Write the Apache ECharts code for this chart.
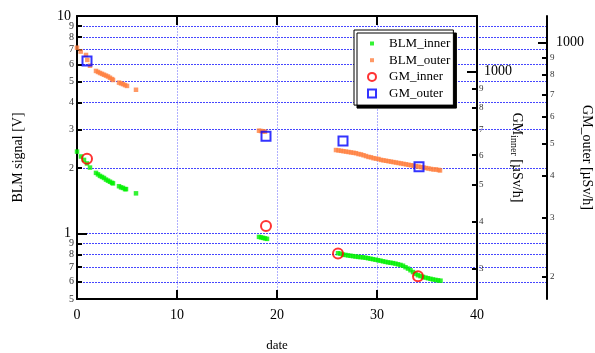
<!DOCTYPE html>
<html>
<head>
<meta charset="utf-8">
<script src="https://cdn.jsdelivr.net/npm/echarts@6/dist/echarts.min.js"></script>
<style>
  html, body { margin: 0; background: #fff; }
  #chart { width: 595px; height: 353px; }
</style>
</head>
<body>
<div id="chart"></div>
<script>
// [date, BLM signal V]
const blmOuter = [
  [0.0, 7.15], [0.37, 6.86], [0.9, 6.62], [1.03, 6.28], [1.3, 5.91],
  [1.9, 5.59], [2.1, 5.53], [2.3, 5.47], [2.5, 5.42], [2.7, 5.37], [2.9, 5.32],
  [3.1, 5.27], [3.3, 5.2], [3.5, 5.13], [3.6, 5.08],
  [4.2, 4.94], [4.4, 4.9], [4.6, 4.86], [4.8, 4.81], [5.0, 4.77],
  [5.9, 4.58],
  [18.2, 2.97], [18.4, 2.96], [18.6, 2.95], [18.8, 2.94],
  [25.9, 2.42], [26.15, 2.41], [26.4, 2.40], [26.65, 2.39], [26.9, 2.38],
  [27.15, 2.37], [27.4, 2.36], [27.65, 2.35], [27.9, 2.34], [28.15, 2.32],
  [28.4, 2.31], [28.65, 2.29], [28.9, 2.27], [29.15, 2.25], [29.4, 2.24],
  [29.65, 2.22], [29.9, 2.21], [30.15, 2.20], [30.4, 2.18], [30.65, 2.17],
  [30.9, 2.16], [31.15, 2.15], [31.4, 2.14], [31.65, 2.13], [31.9, 2.12],
  [32.15, 2.11], [32.4, 2.10], [32.65, 2.09], [32.9, 2.08], [33.15, 2.07],
  [33.4, 2.06], [33.65, 2.05], [33.9, 2.04], [34.15, 2.03], [34.4, 2.02],
  [34.65, 2.01], [34.9, 2.00], [35.15, 1.99], [35.4, 1.98], [35.65, 1.97],
  [35.9, 1.97], [36.15, 1.96], [36.3, 1.95]
];
const blmInner = [
  [0.0, 2.38], [0.4, 2.26], [0.7, 2.18], [1.0, 2.10], [1.3, 2.01],
  [1.9, 1.90], [2.1, 1.87], [2.3, 1.84], [2.5, 1.82], [2.7, 1.80], [2.9, 1.77],
  [3.1, 1.75], [3.3, 1.73], [3.5, 1.71], [3.6, 1.70],
  [4.2, 1.65], [4.4, 1.63], [4.6, 1.62], [4.8, 1.60], [4.9, 1.60],
  [5.9, 1.53],
  [18.2, 0.965], [18.4, 0.96], [18.6, 0.955], [18.8, 0.95], [19.0, 0.945],
  [26.1, 0.812], [26.35, 0.808], [26.6, 0.80], [26.85, 0.797], [27.1, 0.793],
  [27.35, 0.79], [27.6, 0.787], [27.85, 0.784], [28.1, 0.781], [28.35, 0.779],
  [28.6, 0.777], [28.85, 0.774], [29.1, 0.77], [29.35, 0.766], [29.6, 0.762],
  [29.85, 0.758], [30.1, 0.754], [30.35, 0.75], [30.6, 0.745], [30.85, 0.741],
  [31.1, 0.737], [31.35, 0.734], [31.6, 0.731], [31.85, 0.727], [32.1, 0.722],
  [32.35, 0.717], [32.6, 0.711], [32.85, 0.70], [33.1, 0.69], [33.35, 0.678],
  [33.6, 0.665], [33.85, 0.652], [34.1, 0.643], [34.35, 0.637], [34.6, 0.632],
  [34.85, 0.627], [35.1, 0.623], [35.35, 0.619], [35.6, 0.615], [35.85, 0.612],
  [36.1, 0.609], [36.35, 0.607]
];
// [date, µSv/h]
const gmInner = [[1.0, 587], [18.9, 390], [26.1, 330], [34.1, 287]];
const gmOuter = [[1.0, 881], [18.9, 526], [26.6, 509], [34.2, 426]];

const dateTicks = [0, 10, 20, 30, 40];
const leftMinor = [0.5, 0.6, 0.7, 0.8, 0.9, 2, 3, 4, 5, 6, 7, 8, 9];
const leftMajor = [1, 10];
const leftGrid = [0.6, 0.7, 0.8, 0.9, 1, 2, 3, 4, 5, 6, 7, 8, 9];
const innerMinor = [300, 400, 500, 600, 700, 800, 900];
const outerMinor = [200, 300, 400, 500, 600, 700, 800, 900];
const gmMajor = [1000];

const FONT = 'Liberation Serif';
const GRID_BLUE = '#4646ff';
const GRID_BLUE_V = '#b0b0ff';

function minorText(v) {
  const p = Math.pow(10, Math.floor(Math.log10(v) + 1e-9));
  return String(Math.round(v / p));
}
function majorText(v) {
  return String(Math.round(v));
}

const chart = echarts.init(document.getElementById('chart'));

function logAxis(opt) {
  return Object.assign({
    type: 'log',
    gridIndex: 0,
    nameMoveOverlap: false,
    axisLine: { show: false },
    axisTick: { show: false },
    axisLabel: { show: false },
    splitLine: { show: false }
  }, opt);
}

function ticks(values, length) {
  return { show: true, inside: true, length: length, customValues: values,
    lineStyle: { color: '#000', width: 2 } };
}

function labels(values, fmt, size, margin, color) {
  return {
    show: true, margin: margin, customValues: values,
    showMinLabel: true, showMaxLabel: true, hideOverlap: false,
    formatter: fmt, fontFamily: FONT, fontSize: size, color: color
  };
}

const sqIcon = 'path://M0,0M24,10M10,3h4v4h-4z';
const circIcon = 'path://M0,0M24,10M16,5A4,4 0 1,1 8,5A4,4 0 1,1 16,5z';
const boxIcon = 'path://M0,0M24,10M8,1h8v8h-8z';

chart.setOption({
  animation: false,
  backgroundColor: '#fff',
  textStyle: { fontFamily: FONT },
  grid: [
    { left: 77, right: 118, top: 16, bottom: 54, outerBoundsMode: 'none', containLabel: false },
    { left: 77, right: 48, top: 16, bottom: 54, outerBoundsMode: 'none', containLabel: false }
  ],
  legend: {
    left: 354, top: 30,
    orient: 'vertical',
    padding: [7, 3, 5, 5],
    itemWidth: 24, itemHeight: 10, itemGap: 3.7,
    backgroundColor: '#fff',
    borderColor: '#000', borderWidth: 1,
    shadowColor: '#000', shadowOffsetX: 3, shadowOffsetY: 3, shadowBlur: 0,
    selectedMode: false,
    textStyle: { fontFamily: FONT, fontSize: 13, color: '#000', padding: [0, 0, 0, 0] },
    data: [
      { name: 'BLM_inner', icon: sqIcon, itemStyle: { color: '#00f000', borderWidth: 0 } },
      { name: 'BLM_outer', icon: sqIcon, itemStyle: { color: '#ff8040', borderWidth: 0 } },
      { name: 'GM_inner', icon: circIcon, itemStyle: { color: 'transparent', borderColor: '#ff0000', borderWidth: 2 } },
      { name: 'GM_outer', icon: boxIcon, itemStyle: { color: 'transparent', borderColor: '#0000ff', borderWidth: 2 } }
    ]
  },
  xAxis: [
    {
      type: 'value', gridIndex: 0, position: 'bottom',
      min: 0, max: 40, interval: 10,
      name: 'date', nameLocation: 'middle', nameGap: 40, nameMoveOverlap: false,
      nameTextStyle: { fontFamily: FONT, fontSize: 13, color: '#000' },
      axisLine: { show: true, lineStyle: { color: '#000', width: 2 } },
      axisTick: { show: true, inside: true, length: 9, lineStyle: { color: '#000', width: 2 } },
      axisLabel: labels(dateTicks, null, 14, 9, '#000'),
      splitLine: { show: true, lineStyle: { color: GRID_BLUE_V, type: [2, 1], width: 1 } }
    },
    {
      type: 'value', gridIndex: 0, position: 'top',
      min: 0, max: 40, interval: 10,
      axisLine: { show: true, lineStyle: { color: '#000', width: 2 } },
      axisTick: { show: true, inside: true, length: 9, lineStyle: { color: '#000', width: 2 } },
      axisLabel: { show: false },
      splitLine: { show: false }
    },
    {
      type: 'value', gridIndex: 1, min: 0, max: 40, show: false
    }
  ],
  yAxis: [
    // 0: BLM signal, left, minor ticks and labels
    logAxis({
      position: 'left', min: 0.5, max: 10,
      name: 'BLM signal [V]', nameLocation: 'middle', nameGap: 52,
      nameTextStyle: { fontFamily: FONT, fontSize: 14, color: '#000' },
      axisLine: { show: true, lineStyle: { color: '#000', width: 2 } },
      axisTick: ticks(leftMinor, 5),
      axisLabel: labels(leftMinor, minorText, 10, 3, '#333')
    }),
    // 1: BLM major ticks and labels
    logAxis({
      position: 'left', min: 0.5, max: 10,
      axisTick: ticks(leftMajor, 10),
      axisLabel: labels(leftMajor, majorText, 14, 6, '#000')
    }),
    // 2: GM_inner, right
    logAxis({
      position: 'right', min: 250, max: 1400,
      name: '{a|GM}{s|inner}{a| [µSv/h]}', nameLocation: 'middle', nameGap: 32, nameRotate: -90,
      nameTextStyle: {
        rich: {
          a: { fontFamily: FONT, fontSize: 14, color: '#000' },
          s: { fontFamily: FONT, fontSize: 10, color: '#000', verticalAlign: 'bottom', padding: [5, 0, 0, 0] }
        }
      },
      axisLine: { show: true, lineStyle: { color: '#000', width: 2 } },
      axisTick: ticks(innerMinor, 5),
      axisLabel: labels(innerMinor, minorText, 9, 2, '#333')
    }),
    // 3: GM_inner major tick
    logAxis({
      position: 'right', min: 250, max: 1400,
      axisTick: ticks(gmMajor, 10),
      axisLabel: labels(gmMajor, majorText, 14, 7, '#000')
    }),
    // 4: GM_outer, far right
    logAxis({
      position: 'right', offset: 70, min: 172, max: 1200,
      name: 'GM_outer [µSv/h]', nameLocation: 'middle', nameGap: 33, nameRotate: -90,
      nameTextStyle: { fontFamily: FONT, fontSize: 14, color: '#000' },
      axisLine: { show: true, lineStyle: { color: '#000', width: 2 } },
      axisTick: ticks(outerMinor, 5),
      axisLabel: labels(outerMinor, minorText, 9, 3, '#333')
    }),
    // 5: GM_outer major tick
    logAxis({
      position: 'right', offset: 70, min: 172, max: 1200,
      axisTick: ticks(gmMajor, 9),
      axisLabel: labels(gmMajor, majorText, 14, 9, '#000')
    }),
    // 6: horizontal grid lines running out to the far axis
    logAxis({
      gridIndex: 1, position: 'left', min: 0.5, max: 10,
      axisTick: { show: false, customValues: leftGrid },
      splitLine: { show: true, lineStyle: { color: GRID_BLUE, type: [2, 1], width: 1 } }
    })
  ],
  series: [
    {
      name: 'BLM_inner', type: 'scatter', xAxisIndex: 0, yAxisIndex: 0,
      symbol: 'rect', symbolSize: 4.5,
      itemStyle: { color: '#00f000' },
      data: blmInner, z: 3
    },
    {
      name: 'BLM_outer', type: 'scatter', xAxisIndex: 0, yAxisIndex: 0,
      symbol: 'rect', symbolSize: 4.5,
      itemStyle: { color: '#ff8040' },
      data: blmOuter, z: 3
    },
    {
      name: 'GM_inner', type: 'scatter', xAxisIndex: 0, yAxisIndex: 2,
      symbol: 'circle', symbolSize: 10,
      itemStyle: { color: 'transparent', borderColor: '#ff0000', borderWidth: 2 },
      data: gmInner, z: 4
    },
    {
      name: 'GM_outer', type: 'scatter', xAxisIndex: 0, yAxisIndex: 4,
      symbol: 'rect', symbolSize: 9,
      itemStyle: { color: 'transparent', borderColor: '#0000ff', borderWidth: 2 },
      data: gmOuter, z: 4
    }
  ]
});
</script>
</body>
</html>
